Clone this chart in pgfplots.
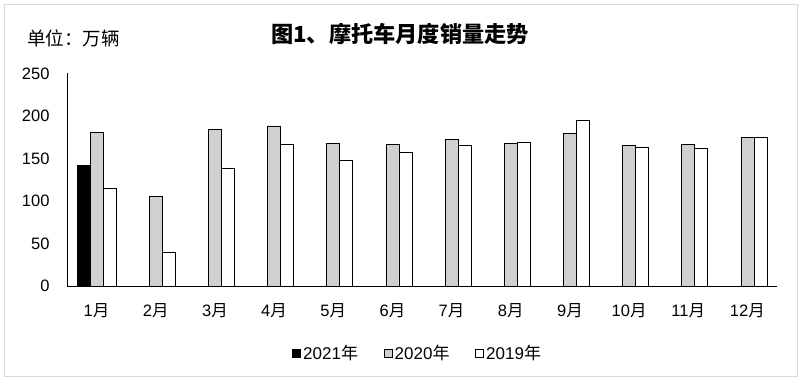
\documentclass[border=0pt]{standalone}
\usepackage{fontspec}
\usepackage{pgfplots}
\pgfplotsset{compat=1.18}
\usepackage{pgfplotstable}
\setmainfont{Liberation Sans}
\newfontfamily\cjk{Noto Sans CJK SC}
\definecolor{barGray}{RGB}{208,208,208}
\definecolor{frameGray}{RGB}{217,217,217}

\pgfplotstableread{
m  y2020 y2019
0  181   115
1  105.5 40
2  184   138.5
3  188   167
4  168   148
5  167   157
6  172.5 165.5
7  168   169
8  179   195
9  165.5 163
10 167   162
11 175   175
}\sales

\begin{document}
\begin{tikzpicture}
\path[use as bounding box] (0,0) rectangle (804bp,382bp);
\draw[frameGray, line width=1bp] (4bp,5bp) rectangle (797bp,377bp);
\begin{axis}[
  at={(67bp,96bp)}, anchor=south west,
  scale only axis, width=710bp, height=212.5bp,
  xmin=-0.5, xmax=11.5, ymin=0, ymax=250,
  ybar=0pt, bar width=13bp,
  legend image code/.code={\draw[#1, line width=0.7bp, draw=black] (0bp,-4bp) rectangle (8bp,4bp);},
  axis x line*=bottom, axis y line*=left,
  axis line style={black, line width=0.9bp, -},
  xtick={0,...,11},
  xticklabels={1{\cjk 月},2{\cjk 月},3{\cjk 月},4{\cjk 月},5{\cjk 月},6{\cjk 月},7{\cjk 月},8{\cjk 月},9{\cjk 月},10{\cjk 月},11{\cjk 月},12{\cjk 月}},
  ytick={0,50,...,250},
  major tick length=0pt,
  tick label style={font=\fontsize{16.5bp}{18bp}\selectfont},
  /pgf/number format/assume math mode=true,
  yticklabel style={xshift=-14bp},
  xticklabel style={yshift=-14bp},
  legend style={at={(0.494,-0.315)}, anchor=center, draw=none,
    legend columns=3, font=\fontsize{17bp}{18bp}\selectfont,
    /tikz/every even column/.append style={column sep=24bp}},
]
\addplot[fill=black, draw=black, line width=0.8bp] coordinates {(0,142)};
\addplot[fill=barGray, draw=black, line width=0.8bp] table[x=m, y=y2020] {\sales};
\addplot[fill=white, draw=black, line width=0.8bp] table[x=m, y=y2019] {\sales};
\legend{2021{\cjk 年},2020{\cjk 年},2019{\cjk 年}}
\end{axis}
\node[font=\cjk\bfseries\fontsize{22.2bp}{25bp}\selectfont] at (400bp,348bp) {图1、摩托车月度销量走势};
\node[anchor=west, inner sep=0pt, font=\cjk\fontsize{18.5bp}{20bp}\selectfont] at (27bp,343.5bp) {单位：万辆};
\end{tikzpicture}
\end{document}
